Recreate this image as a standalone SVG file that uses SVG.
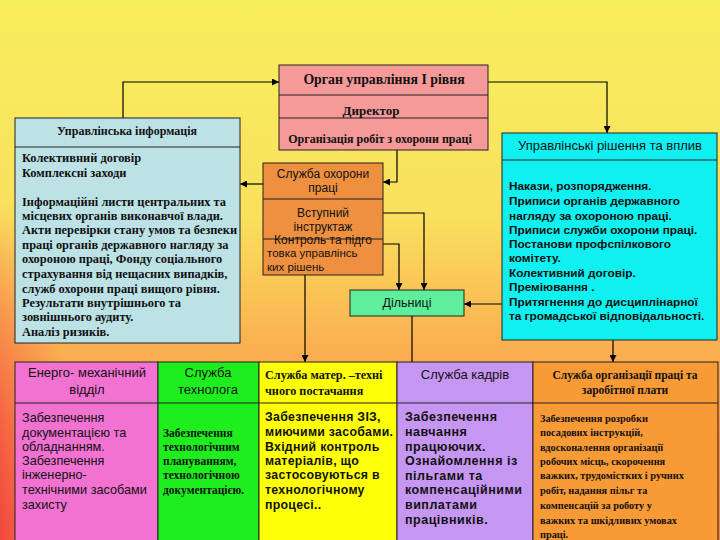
<svg xmlns="http://www.w3.org/2000/svg" width="720" height="540" viewBox="0 0 720 540">
<defs>
<linearGradient id="bg" x1="0" y1="0" x2="0" y2="1">
<stop offset="0" stop-color="#F8EF5C"/>
<stop offset="0.4" stop-color="#F9E05E"/>
<stop offset="0.62" stop-color="#FBB452"/>
<stop offset="0.8" stop-color="#FB9446"/>
<stop offset="1" stop-color="#FA8040"/>
</linearGradient>
<linearGradient id="edge" x1="0" y1="0" x2="1" y2="0">
<stop offset="0" stop-color="#F04040" stop-opacity="0.9"/>
<stop offset="1" stop-color="#F04848" stop-opacity="0"/>
</linearGradient>
<linearGradient id="edgeV" x1="0" y1="0" x2="0" y2="1">
<stop offset="0" stop-color="#fff" stop-opacity="0"/>
<stop offset="1" stop-color="#fff" stop-opacity="1"/>
</linearGradient>
<mask id="edgeMask"><rect x="0" y="200" width="60" height="340" fill="url(#edgeV)"/></mask>
<marker id="ah" viewBox="0 0 10 10" refX="10" refY="5" markerWidth="7" markerHeight="7" orient="auto" markerUnits="userSpaceOnUse">
<path d="M0,0 L10,5 L0,10 z" fill="#000"/>
</marker>
<style>
.b{stroke:#222;stroke-width:1}
.ln{stroke:#000;stroke-width:1.2;fill:none}
.ser{font-family:"Liberation Serif","Times New Roman",serif;font-weight:bold;fill:#111}
.san{font-family:"Liberation Sans",Arial,sans-serif;fill:#111}
.c{text-anchor:middle}
</style>
</defs>
<rect width="720" height="540" fill="url(#bg)"/>
<rect x="0" y="200" width="60" height="340" fill="url(#edge)" mask="url(#edgeMask)"/>

<g id="connectors">
<path class="ln" d="M123,118 V82 H279" marker-end="url(#ah)"/>
<path class="ln" d="M488,82 H607 V133" marker-end="url(#ah)"/>
<path class="ln" d="M397,150 V182 H383" marker-end="url(#ah)"/>
<path class="ln" d="M263,184 H240" marker-end="url(#ah)"/>
<path class="ln" d="M383,213 H424 V290" marker-end="url(#ah)"/>
<path class="ln" d="M383,244 H399 V290" marker-end="url(#ah)"/>
<path class="ln" d="M502,304 H464" marker-end="url(#ah)"/>
<path class="ln" d="M305,275 V362" marker-end="url(#ah)"/>
<path class="ln" d="M412,316 V362"/>
<path class="ln" d="M613,340 V362" marker-end="url(#ah)"/>
</g>

<g id="organ">
<rect class="b" x="279" y="65" width="209" height="85" fill="#F59A98"/>
<line class="b" x1="279" y1="95" x2="488" y2="95"/>
<line class="b" x1="279" y1="118" x2="488" y2="118"/>
<text class="ser c" x="384" y="84" font-size="13.8">Орган управління І рівня</text>
<text class="ser c" x="371" y="115" font-size="13">Директор</text>
<text class="ser c" x="380" y="143" font-size="12">Організація робіт з охорони праці</text>
</g>

<g id="info">
<rect class="b" x="15" y="118" width="225" height="225" fill="#BCE2E6"/>
<line class="b" x1="15" y1="147" x2="240" y2="147"/>
<g class="ser" font-size="12.4">
<text class="c" x="127" y="135" font-size="12">Управлінська інформація</text>
<text x="22" y="162">Колективний  договір</text>
<text x="22" y="177">Комплексні заходи</text>
<text x="22" y="206">Інформаційні листи центральних та</text>
<text x="22" y="220">місцевих органів виконавчої влади.</text>
<text x="22" y="234">Акти перевірки стану умов та безпеки</text>
<text x="22" y="249">праці органів державного нагляду за</text>
<text x="22" y="263">охороною праці, Фонду соціального</text>
<text x="22" y="278">страхування від нещасних випадків,</text>
<text x="22" y="293">служб охорони праці вищого рівня.</text>
<text x="22" y="307">Результати внутрішнього та</text>
<text x="22" y="321">зовнішнього аудиту.</text>
<text x="22" y="336">Аналіз ризиків.</text>
</g>
</g>

<g id="sluzhba">
<rect class="b" x="263" y="163" width="120" height="112" fill="#EE9040"/>
<line class="b" x1="263" y1="199" x2="383" y2="199"/>
<line class="b" x1="263" y1="239" x2="383" y2="239"/>
<g class="san" font-size="12">
<text class="c" x="323" y="178">Служба охорони</text>
<text class="c" x="323" y="192">праці</text>
<text class="c" x="323" y="217">Вступний</text>
<text class="c" x="323" y="231">інструктаж</text>
<text class="c" x="323" y="244">Контроль та підго</text>
<text x="267" y="257" font-size="11.5">товка управлінсь</text>
<text x="267" y="271" font-size="11.5">ких рішень</text>
</g>
</g>

<g id="dilnytsi">
<rect class="b" x="350" y="290" width="114" height="26" fill="#5EEE9C"/>
<text class="san c" x="407" y="307" font-size="12.5">Дільниці</text>
</g>

<g id="rishennia">
<rect class="b" x="502" y="133" width="215" height="207" fill="#10F0F0"/>
<line class="b" x1="502" y1="160" x2="717" y2="160"/>
<g class="san" font-size="11.8" font-weight="bold" fill="#1a1a55">
<text class="c" x="610" y="150" font-size="13" font-weight="normal">Управлінські рішення та вплив</text>
<text x="509" y="190">Накази, розпорядження.</text>
<text x="509" y="205">Приписи органів державного</text>
<text x="509" y="220">нагляду за охороною праці.</text>
<text x="509" y="234">Приписи служби охорони праці.</text>
<text x="509" y="248">Постанови профспілкового</text>
<text x="509" y="262">комітету.</text>
<text x="509" y="277">Колективний договір.</text>
<text x="509" y="291">Преміювання .</text>
<text x="509" y="306">Притягнення до дисциплінарної</text>
<text x="509" y="320"> та громадської відповідальності.</text>
</g>
</g>

<g id="energo">
<rect class="b" x="15" y="362" width="143" height="190" fill="#F272D2"/>
<line class="b" x1="15" y1="403" x2="158" y2="403"/>
<g class="san" font-size="12.7">
<text class="c" x="87" y="377" font-size="13">Енерго- механічний</text>
<text class="c" x="87" y="394" font-size="13">відділ</text>
<text x="22" y="422">Забезпечення</text>
<text x="22" y="437">документацією та</text>
<text x="22" y="451">обладнанням.</text>
<text x="22" y="465">Забезпечення</text>
<text x="22" y="479">інженерно-</text>
<text x="22" y="494">технічними засобами</text>
<text x="22" y="509">захисту</text>
</g>
</g>

<g id="tekhnoloh">
<rect class="b" x="158" y="362" width="101" height="190" fill="#1EEE1E"/>
<line class="b" x1="158" y1="403" x2="259" y2="403"/>
<g class="san" font-size="13" fill="#333">
<text class="c" x="208" y="377">Служба</text>
<text class="c" x="208" y="394">технолога</text>
</g>
<g class="ser" font-size="11.5">
<text x="163" y="437">Забезпечення</text>
<text x="163" y="451">технологічним</text>
<text x="163" y="465">плануванням,</text>
<text x="163" y="479">технологічною</text>
<text x="163" y="494">документацією.</text>
</g>
</g>

<g id="postachannia">
<rect class="b" x="259" y="362" width="138" height="190" fill="#FFFF08"/>
<line class="b" x1="259" y1="403" x2="397" y2="403"/>
<g class="ser" font-size="12.2">
<text x="265" y="379">Служба матер. –техні</text>
<text x="265" y="395">чного постачання</text>
</g>
<g class="san" font-size="12.3" letter-spacing="0.3" style="font-weight:600">
<text x="265" y="421">Забезпечення ЗІЗ,</text>
<text x="265" y="436">миючими засобами.</text>
<text x="265" y="451">Вхідний контроль</text>
<text x="265" y="465">матеріалів, що</text>
<text x="265" y="479">застосовуються в</text>
<text x="265" y="494">технологічному</text>
<text x="265" y="509">процесі..</text>
</g>
</g>

<g id="kadry">
<rect class="b" x="397" y="362" width="136" height="190" fill="#C596F2"/>
<line class="b" x1="397" y1="403" x2="533" y2="403"/>
<text class="san c" x="465" y="379" font-size="13">Служба кадрів</text>
<g class="san" font-size="12.5" letter-spacing="0.5" style="font-weight:600">
<text x="405" y="421">Забезпечення</text>
<text x="405" y="436">навчання</text>
<text x="405" y="451"> працюючих.</text>
<text x="405" y="465">Ознайомлення із</text>
<text x="405" y="480">пільгами та</text>
<text x="405" y="494">компенсаційними</text>
<text x="405" y="509">виплатами</text>
<text x="405" y="524">працівників.</text>
</g>
</g>

<g id="orhanizatsiia">
<rect class="b" x="533" y="362" width="185" height="190" fill="#F89A36"/>
<line class="b" x1="533" y1="403" x2="718" y2="403"/>
<g class="ser" font-size="10.3">
<text class="c" x="625" y="379" font-size="11.5">Служба організації праці та</text>
<text class="c" x="625" y="394" font-size="11.5">заробітної плати</text>
<text x="540" y="422">Забезпечення розробки</text>
<text x="540" y="436">посадових інструкцій,</text>
<text x="540" y="451">вдосконалення організації</text>
<text x="540" y="465">робочих місць, скорочення</text>
<text x="540" y="479">важких, трудомістких і ручних</text>
<text x="540" y="494">робіт, надання пільг та</text>
<text x="540" y="509">компенсацій за роботу у</text>
<text x="540" y="524">важких та шкідливих умовах</text>
<text x="540" y="538">праці.</text>
</g>
</g>
</svg>
